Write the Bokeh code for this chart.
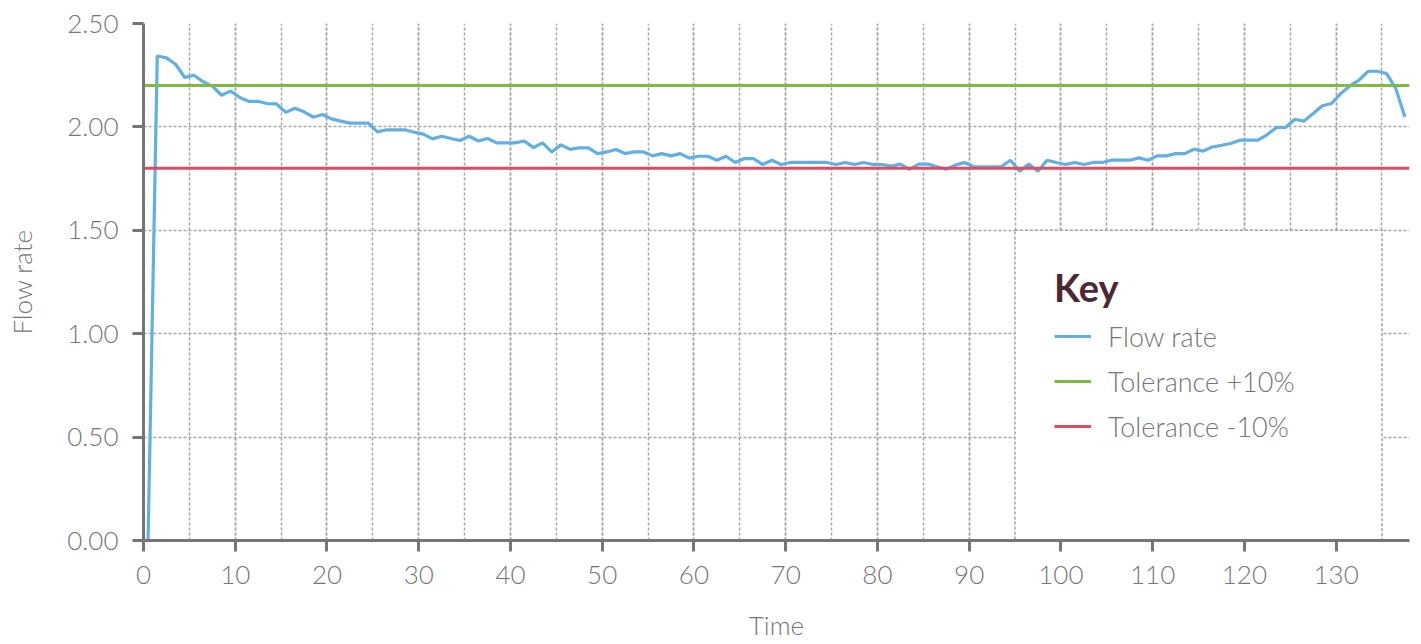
from bokeh.plotting import figure
from bokeh.models import (Legend, LegendItem, SingleIntervalTicker, FixedTicker,
                          NumeralTickFormatter, Range1d)
from bokeh.embed import file_html
from bokeh.resources import INLINE

# ---- data ----
time = [i + 0.5 for i in range(138)]
flow_rate = [
    0.000, 2.343, 2.334, 2.303, 2.239, 2.250, 2.218, 2.197, 2.153, 2.173,
    2.142, 2.123, 2.123, 2.113, 2.111, 2.071, 2.090, 2.073, 2.047, 2.060,
    2.039, 2.028, 2.018, 2.018, 2.018, 1.976, 1.986, 1.986, 1.986, 1.974,
    1.965, 1.942, 1.955, 1.944, 1.934, 1.955, 1.932, 1.944, 1.923, 1.923,
    1.923, 1.932, 1.900, 1.923, 1.879, 1.913, 1.891, 1.899, 1.899, 1.871,
    1.879, 1.891, 1.871, 1.879, 1.879, 1.860, 1.871, 1.860, 1.871, 1.849,
    1.858, 1.858, 1.839, 1.858, 1.828, 1.847, 1.847, 1.818, 1.839, 1.818,
    1.828, 1.828, 1.828, 1.828, 1.828, 1.818, 1.828, 1.818, 1.828, 1.818,
    1.818, 1.810, 1.820, 1.795, 1.820, 1.820, 1.807, 1.795, 1.815, 1.828,
    1.807, 1.807, 1.807, 1.807, 1.839, 1.786, 1.820, 1.786, 1.839, 1.828,
    1.818, 1.828, 1.818, 1.828, 1.828, 1.839, 1.839, 1.839, 1.850, 1.839,
    1.860, 1.860, 1.871, 1.871, 1.892, 1.883, 1.903, 1.911, 1.920, 1.936,
    1.936, 1.936, 1.963, 1.997, 1.997, 2.037, 2.028, 2.065, 2.102, 2.113,
    2.161, 2.198, 2.226, 2.269, 2.269, 2.258, 2.186, 2.048,
]
tol_plus = 2.2
tol_minus = 1.8
x_extent = [0, 138]
y_ticks = [0, 0.5, 1.0, 1.5, 2.0, 2.5]
key_box = dict(left=[95], right=[135], bottom=[0], top=[1.5])

FONT = "Lato Light"
GREY = "#767676"
GRID = "#a6a6a6"
BLUE = "#62afe3"
GREEN = "#7fba42"
RED = "#df4b62"

p = figure(width=1421, height=644, output_backend="svg", toolbar_location=None,
           x_range=Range1d(x_extent[0], x_extent[1]), y_range=Range1d(0, 2.5),
           min_border_left=143, min_border_top=23, min_border_right=12,
           min_border_bottom=104)
p.outline_line_color = None
p.background_fill_color = "white"

# grids
p.xaxis.ticker = SingleIntervalTicker(interval=10, num_minor_ticks=2)
p.yaxis.ticker = FixedTicker(ticks=y_ticks)
for g in (p.xgrid, p.ygrid):
    g.grid_line_color = GRID
    g.grid_line_dash = "3 2"
    g.grid_line_width = 1.5
p.xgrid.minor_grid_line_color = GRID
p.xgrid.minor_grid_line_dash = "3 2"
p.xgrid.minor_grid_line_width = 1.5

# key background box
p.quad(left=key_box["left"], right=key_box["right"], bottom=key_box["bottom"],
       top=key_box["top"], fill_color="white", line_color=GRID,
       line_dash="3 2", line_width=1.5)

# lines
r_flow = p.line(time, flow_rate, line_color=BLUE, line_width=3.2)
r_plus = p.line(x_extent, [tol_plus, tol_plus], line_color=GREEN, line_width=3)
r_minus = p.line(x_extent, [tol_minus, tol_minus], line_color=RED, line_width=3)

# axes
for ax in (p.xaxis, p.yaxis):
    ax.axis_line_color = GREY
    ax.axis_line_width = 3
    ax.major_tick_line_color = GREY
    ax.major_tick_line_width = 3
    ax.major_tick_out = 11
    ax.major_tick_in = 0
    ax.minor_tick_out = 0
    ax.minor_tick_in = 0
    ax.major_label_text_font = FONT
    ax.major_label_text_font_size = "26px"
    ax.major_label_text_color = GREY
    ax.axis_label_text_font = FONT
    ax.axis_label_text_font_size = "26px"
    ax.axis_label_text_color = GREY
    ax.axis_label_text_font_style = "normal"
    ax.major_label_standoff = 14
p.yaxis.formatter = NumeralTickFormatter(format="0.00")
p.xaxis.axis_label = "Time"
p.yaxis.axis_label = "Flow rate"
p.xaxis.axis_label_standoff = 22
p.yaxis.axis_label_standoff = 26

legend = Legend(items=[LegendItem(label="Flow rate", renderers=[r_flow]),
                       LegendItem(label="Tolerance +10%", renderers=[r_plus]),
                       LegendItem(label="Tolerance -10%", renderers=[r_minus])],
                location=(911, 94), title="Key",
                title_text_font="Lato", title_text_font_size="38px",
                title_text_font_style="bold", title_text_color="#4d2736",
                title_standoff=6,
                label_text_font=FONT, label_text_font_size="27px",
                label_text_color=GREY, label_standoff=17,
                glyph_width=37, glyph_height=40, label_height=40, spacing=5,
                padding=0, margin=0, background_fill_alpha=0,
                border_line_alpha=0)
p.add_layout(legend, "center")

open("out.html", "w").write(file_html(p, INLINE))
